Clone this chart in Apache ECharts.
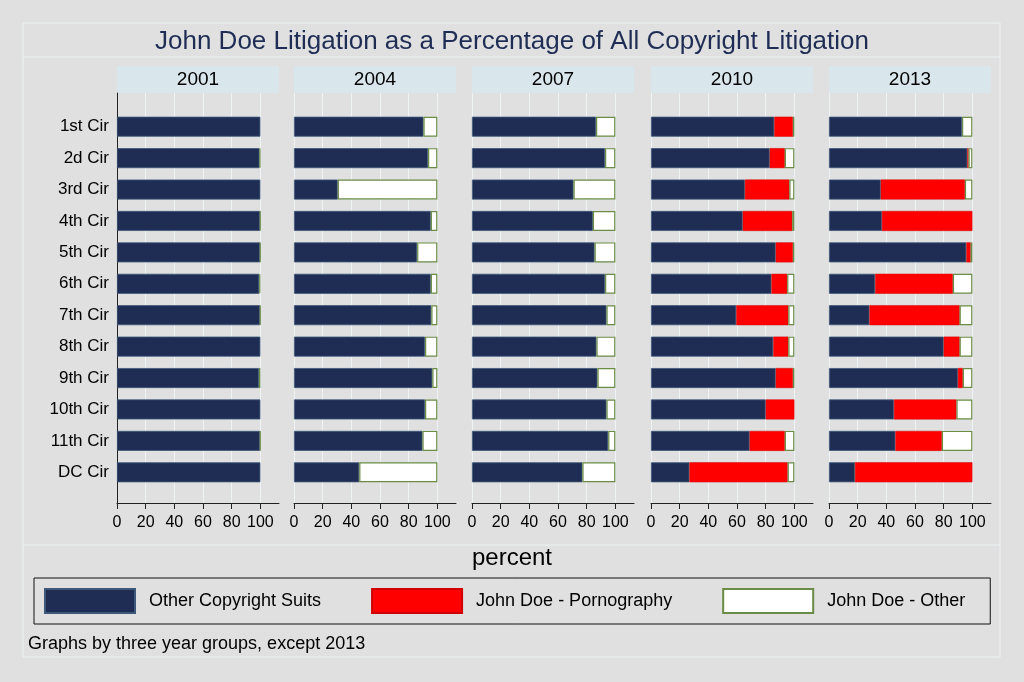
<!DOCTYPE html>
<html>
<head>
<meta charset="utf-8">
<script src="https://cdn.jsdelivr.net/npm/echarts@6/dist/echarts.min.js"></script>
<style>
  * { margin: 0; padding: 0; }
  html, body { background: #e0e0e0; }
</style>
</head>
<body>
<div id="chart" style="width:1024px;height:682px;"></div>
<script>
  // circuits and panel years
  var circuits = ['1st Cir', '2d Cir', '3rd Cir', '4th Cir', '5th Cir', '6th Cir',
    '7th Cir', '8th Cir', '9th Cir', '10th Cir', '11th Cir', 'DC Cir'];
  var years = ['2001', '2004', '2007', '2010', '2013'];
  var xTicks = [0, 20, 40, 60, 80, 100];

  // percent of all copyright suits
  var other2001 = [100, 99.4, 100, 99.8, 99.8, 99.2, 99.8, 100, 99, 100, 99.8, 100];
  var porn2001 = [0, 0, 0, 0, 0, 0, 0, 0, 0, 0, 0, 0];
  var doeOther2001 = [0, 0.6, 0, 0.2, 0.2, 0.8, 0.2, 0, 1, 0, 0.2, 0];

  var other2004 = [90.3, 93.5, 30.5, 95.4, 85.9, 95.4, 95.8, 91.4, 96.5, 91.4, 89.6, 45.5];
  var porn2004 = [0, 0, 0, 0, 0, 0, 0, 0, 0, 0, 0, 0];
  var doeOther2004 = [9.7, 6.5, 69.5, 4.6, 14.1, 4.6, 4.2, 8.6, 3.5, 8.6, 10.4, 54.5];

  var other2007 = [86.5, 92.8, 70.8, 84.3, 85.5, 92.8, 93.8, 86.8, 87.5, 93.8, 95, 77];
  var porn2007 = [0, 0, 0, 0, 0, 0, 0, 0, 0, 0, 0, 0];
  var doeOther2007 = [13.5, 7.2, 29.2, 15.7, 14.5, 7.2, 6.2, 13.2, 12.5, 6.2, 5, 23];

  var other2010 = [86, 82.8, 65.5, 64, 87, 84, 59.5, 85.3, 87, 80, 68.8, 26.8];
  var porn2010 = [13, 10.5, 31, 34.5, 12, 11, 36.3, 10.5, 12, 20, 24.5, 68.5];
  var doeOther2010 = [1, 6.7, 3.5, 1.5, 1, 5, 4.2, 4.2, 1, 0, 6.7, 4.7];

  var other2013 = [92.8, 96.5, 36.1, 36.9, 95.8, 32.2, 28.2, 80, 89.9, 45.3, 46.3, 18.1];
  var porn2013 = [0, 0.8, 58.7, 63.1, 3, 54.2, 62.9, 11.1, 3.4, 43.6, 32.4, 81.9];
  var doeOther2013 = [7.2, 2.7, 5.2, 0, 1.2, 13.6, 8.9, 8.9, 6.7, 11.1, 21.3, 0];

  var otherSuits = [other2001, other2004, other2007, other2010, other2013];
  var pornSuits = [porn2001, porn2004, porn2007, porn2010, porn2013];
  var doeOtherSuits = [doeOther2001, doeOther2004, doeOther2007, doeOther2010, doeOther2013];

  var font = 'Liberation Sans, Arial, Helvetica, sans-serif';
  var panelLeft = [117, 294, 472, 651, 829];
  var panelWidth = 162;
  var xMax = 113;

  var grids = [], xAxes = [], yAxes = [], series = [], graphics = [];

  // frame lines round the plot region
  graphics.push({ type: 'rect', shape: { x: 23, y: 23, width: 977, height: 634 },
    style: { fill: 'none', stroke: '#edf2f4', lineWidth: 1 }, silent: true });
  graphics.push({ type: 'line', shape: { x1: 23, y1: 57, x2: 1000, y2: 57 },
    style: { stroke: '#edf2f4', lineWidth: 1 }, silent: true });
  graphics.push({ type: 'line', shape: { x1: 23, y1: 545, x2: 1000, y2: 545 },
    style: { stroke: '#edf2f4', lineWidth: 1 }, silent: true });

  function noZero(arr) {
    return arr.map(function (v) { return v ? v : null; });
  }

  years.forEach(function (yr, i) {
    // bar grid (index i)
    grids[i] = { left: panelLeft[i], top: 111, width: panelWidth, height: 377 };
    // frame grid (index i + 5) for gridlines and the x axis
    grids[i + 5] = { left: panelLeft[i], top: 93, width: panelWidth, height: 410 };

    xAxes[i] = { type: 'value', gridIndex: i, min: 0, max: xMax, show: false };
    yAxes[i] = {
      type: 'category', gridIndex: i, data: circuits, inverse: true,
      axisLine: { show: false }, axisTick: { show: false },
      axisLabel: { show: i === 0, fontSize: 17, color: '#000', fontFamily: font, margin: 8 }
    };

    xAxes[i + 5] = {
      type: 'value', gridIndex: i + 5, min: 0, max: xMax,
      axisLine: { show: true, lineStyle: { color: '#222', width: 1 } },
      axisTick: { show: true, customValues: xTicks, length: 6, lineStyle: { color: '#222' } },
      axisLabel: { customValues: xTicks, fontSize: 16, color: '#000', fontFamily: font, margin: 12 },
      splitLine: { show: true, lineStyle: { color: '#eef3f5', width: 1 } }
    };
    yAxes[i + 5] = {
      type: 'value', gridIndex: i + 5, min: 0, max: 1,
      axisLine: { show: i === 0, lineStyle: { color: '#222', width: 1 } },
      axisTick: { show: false }, axisLabel: { show: false }, splitLine: { show: false }
    };

    series.push({
      name: 'Other Copyright Suits', type: 'bar', stack: 'p' + i,
      xAxisIndex: i, yAxisIndex: i, barWidth: 20,
      itemStyle: { color: '#1f2d55', borderColor: '#3d5878', borderWidth: 0.8 },
      data: noZero(otherSuits[i])
    });
    series.push({
      name: 'John Doe - Pornography', type: 'bar', stack: 'p' + i,
      xAxisIndex: i, yAxisIndex: i, barWidth: 20,
      itemStyle: { color: '#ff0000', borderColor: '#d00000', borderWidth: 0.5 },
      data: noZero(pornSuits[i])
    });
    series.push({
      name: 'John Doe - Other', type: 'bar', stack: 'p' + i,
      xAxisIndex: i, yAxisIndex: i, barWidth: 20,
      itemStyle: { color: '#ffffff', borderColor: '#6b8c45', borderWidth: 1.2 },
      data: noZero(doeOtherSuits[i])
    });

    // panel strip
    graphics.push({
      type: 'rect', shape: { x: panelLeft[i], y: 66, width: panelWidth, height: 27 },
      style: { fill: '#d9e6ec' }, silent: true
    });
    graphics.push({
      type: 'text', x: panelLeft[i] + panelWidth / 2, y: 80,
      style: { text: yr, fill: '#000', font: '19px ' + font, textAlign: 'center', textVerticalAlign: 'middle' },
      silent: true
    });
  });

  var chart = echarts.init(document.getElementById('chart'));
  chart.setOption({
    backgroundColor: '#e0e0e0',
    animation: false,
    title: [{
      text: 'John Doe Litigation as a Percentage of All Copyright Litigation',
      left: 'center', top: 24,
      textStyle: { fontSize: 26, fontWeight: 'normal', color: '#1f2d55', fontFamily: font }
    }, {
      text: 'percent', left: 'center', top: 541,
      textStyle: { fontSize: 24, fontWeight: 'normal', color: '#000', fontFamily: font }
    }, {
      text: 'Graphs by three year groups, except 2013', left: 23, top: 630,
      textStyle: { fontSize: 18, fontWeight: 'normal', color: '#000', fontFamily: font }
    }],
    legend: {
      data: ['Other Copyright Suits', 'John Doe - Pornography', 'John Doe - Other'],
      left: 34, top: 578,
      padding: [10, 25, 10, 10],
      itemWidth: 90, itemHeight: 24, itemGap: 50,
      icon: 'rect',
      borderColor: '#111', borderWidth: 1,
      textStyle: { fontSize: 18, color: '#000', fontFamily: font, padding: [0, 0, 0, 9] }
    },
    grid: grids,
    xAxis: xAxes,
    yAxis: yAxes,
    series: series,
    graphic: graphics
  });
</script>
</body>
</html>
